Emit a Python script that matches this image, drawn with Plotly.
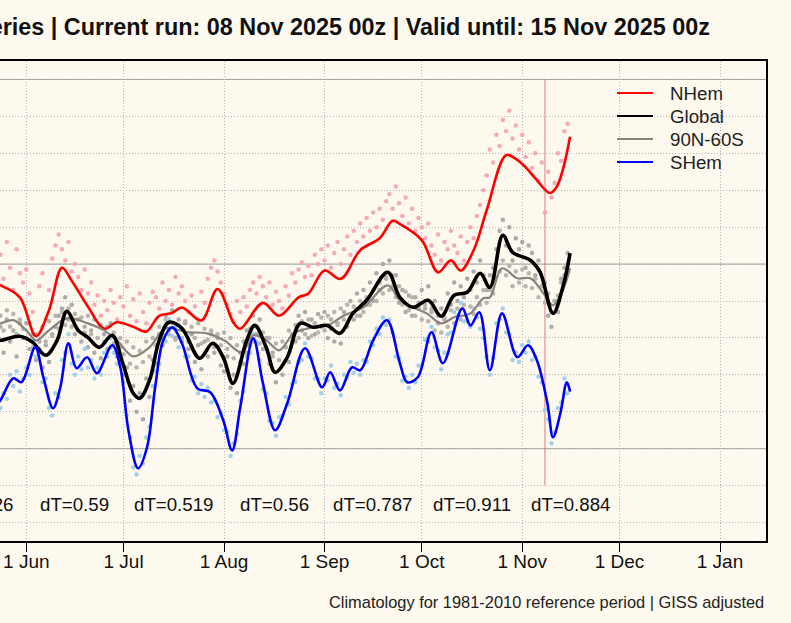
import pandas as pd
import plotly.graph_objects as go

# smoothed curves (key points)
nhem_dates = ["2025-05-21", "2025-05-24", "2025-05-30", "2025-06-04", "2025-06-08", "2025-06-12",
              "2025-06-15", "2025-06-20", "2025-06-25", "2025-06-29", "2025-07-04", "2025-07-08",
              "2025-07-12", "2025-07-16", "2025-07-19", "2025-07-25", "2025-07-30", "2025-08-04",
              "2025-08-06", "2025-08-13", "2025-08-18", "2025-08-24", "2025-08-27", "2025-09-01",
              "2025-09-06", "2025-09-12", "2025-09-18", "2025-09-22", "2025-09-24", "2025-10-01",
              "2025-10-06", "2025-10-10", "2025-10-13", "2025-10-17", "2025-10-21", "2025-10-27",
              "2025-10-30", "2025-11-02", "2025-11-05", "2025-11-09 12:00", "2025-11-11 12:00",
              "2025-11-13 12:00", "2025-11-15 18:00"]
nhem_vals = [0.90, 0.885, 0.82, 0.61, 0.75, 0.98, 0.91, 0.77, 0.65, 0.685, 0.66, 0.635,
             0.72, 0.735, 0.765, 0.695, 0.865, 0.68, 0.65, 0.79, 0.72, 0.82, 0.84, 0.965,
             0.92, 1.075, 1.14, 1.235, 1.22, 1.13, 0.955, 1.02, 0.965, 1.075, 1.29, 1.59,
             1.57, 1.525, 1.465, 1.385, 1.415, 1.51, 1.69]

glob_dates = ["2025-05-21", "2025-05-24", "2025-05-30", "2025-06-03", "2025-06-07", "2025-06-10 12:00",
              "2025-06-13 12:00", "2025-06-17", "2025-06-20", "2025-06-23 12:00", "2025-06-27 12:00",
              "2025-06-30 18:00", "2025-07-04", "2025-07-06", "2025-07-09", "2025-07-12", "2025-07-15",
              "2025-07-19", "2025-07-24 12:00", "2025-07-28 12:00", "2025-07-31 18:00",
              "2025-08-03 18:00", "2025-08-08", "2025-08-10 12:00", "2025-08-14", "2025-08-16 18:00",
              "2025-08-20 12:00", "2025-08-24 12:00", "2025-08-28 12:00", "2025-09-01 18:00",
              "2025-09-05 18:00", "2025-09-09 18:00", "2025-09-14", "2025-09-20 12:00",
              "2025-09-24 06:00", "2025-09-28 06:00", "2025-10-03", "2025-10-07", "2025-10-11",
              "2025-10-15", "2025-10-19", "2025-10-22", "2025-10-26", "2025-10-29",
              "2025-11-03 12:00", "2025-11-06 12:00", "2025-11-10 12:00", "2025-11-13 12:00",
              "2025-11-15 18:00"]
glob_vals = [0.59, 0.587, 0.609, 0.576, 0.506, 0.587, 0.744, 0.641, 0.603, 0.549, 0.614,
             0.463, 0.30, 0.273, 0.37, 0.587, 0.685, 0.652, 0.49, 0.571, 0.495,
             0.354, 0.587, 0.668, 0.549, 0.414, 0.495, 0.679, 0.658, 0.668,
             0.625, 0.733, 0.804, 0.956, 0.82, 0.766, 0.804, 0.717, 0.831,
             0.847, 0.95, 0.874, 1.156, 1.064, 1.021, 0.956, 0.733, 0.874, 1.059]

band_dates = ["2025-05-21", "2025-05-24", "2025-05-28", "2025-06-01", "2025-06-04", "2025-06-08",
              "2025-06-13 12:00", "2025-06-20", "2025-06-25", "2025-06-29", "2025-07-04", "2025-07-09",
              "2025-07-14", "2025-07-20 12:00", "2025-07-26 18:00", "2025-08-01", "2025-08-06 12:00",
              "2025-08-10", "2025-08-14", "2025-08-18", "2025-08-22 12:00", "2025-08-27",
              "2025-09-02", "2025-09-07", "2025-09-13", "2025-09-20 12:00", "2025-09-24 06:00",
              "2025-09-28 06:00", "2025-10-02 12:00", "2025-10-07", "2025-10-11", "2025-10-16",
              "2025-10-20", "2025-10-22", "2025-10-25 18:00", "2025-10-30 12:00", "2025-11-03 12:00",
              "2025-11-07 12:00", "2025-11-10 12:00", "2025-11-13 12:00", "2025-11-15 18:00"]
band_vals = [0.67, 0.679, 0.696, 0.641, 0.587, 0.641, 0.706, 0.679, 0.641, 0.587, 0.50, 0.549,
             0.652, 0.631, 0.625, 0.587, 0.522, 0.614, 0.587, 0.533, 0.625, 0.652,
             0.668, 0.722, 0.766, 0.885, 0.804, 0.766, 0.733, 0.679, 0.712, 0.733,
             0.815, 0.82, 0.977, 0.923, 0.923, 0.842, 0.777, 0.858, 0.977]

shem_dates = ["2025-05-21", "2025-05-24", "2025-05-28", "2025-05-30 12:00", "2025-06-03 18:00",
              "2025-06-06 06:00", "2025-06-09 06:00", "2025-06-11 12:00", "2025-06-14",
              "2025-06-16 12:00", "2025-06-19 18:00", "2025-06-22 18:00", "2025-06-27 12:00",
              "2025-06-30", "2025-07-02 12:00", "2025-07-05 12:00", "2025-07-08 06:00",
              "2025-07-10 18:00", "2025-07-13 06:00", "2025-07-16", "2025-07-19",
              "2025-07-23 18:00", "2025-07-27 18:00", "2025-07-31 18:00", "2025-08-03 12:00",
              "2025-08-06", "2025-08-10", "2025-08-13", "2025-08-16 18:00", "2025-08-20 12:00",
              "2025-08-26", "2025-08-31 06:00", "2025-09-02 18:00", "2025-09-05 18:00",
              "2025-09-09 12:00", "2025-09-12", "2025-09-16", "2025-09-20 06:00",
              "2025-09-24 06:00", "2025-09-26 12:00", "2025-09-29 18:00", "2025-10-04",
              "2025-10-07 12:00", "2025-10-13 12:00", "2025-10-16", "2025-10-18 18:00",
              "2025-10-22", "2025-10-25 18:00", "2025-10-30 12:00", "2025-11-02 18:00",
              "2025-11-05 12:00", "2025-11-08 18:00", "2025-11-10 12:00", "2025-11-12 18:00",
              "2025-11-14 18:00", "2025-11-15 18:00"]
shem_vals = [0.20, 0.262, 0.381, 0.36, 0.549, 0.387, 0.219, 0.333, 0.571, 0.436, 0.495,
             0.409, 0.56, 0.441, 0.10, -0.106, 0.008, 0.333, 0.587, 0.658, 0.571,
             0.327, 0.306, 0.154, -0.009, 0.224, 0.598, 0.354, 0.10, 0.246,
             0.544, 0.333, 0.414, 0.316, 0.441, 0.425, 0.587, 0.696,
             0.463, 0.36, 0.387, 0.631, 0.463, 0.76, 0.668, 0.739,
             0.425, 0.733, 0.495, 0.56, 0.479, 0.246, 0.062, 0.192, 0.36, 0.31]

# daily values (dots), 24 May - 15 Nov
nhem_daily = [1.05, 0.92, 1.12, 0.98, 0.86, 1.08, 0.95, 0.90,
              0.97, 0.84, 0.74, 0.62, 0.88, 0.95, 0.70, 0.86, 1.03, 1.10,
              1.16, 1.08, 1.02, 1.12, 0.96, 1.00, 0.93, 0.86, 0.97, 0.84,
              0.90, 0.78, 0.83, 0.72, 0.80, 0.75, 0.86, 0.79, 0.70, 0.82,
              0.77, 0.88, 0.72, 0.81, 0.69, 0.84, 0.74, 0.68, 0.79, 0.85,
              0.82, 0.76, 0.90, 0.80, 0.86, 0.78, 0.93, 0.84, 0.88, 0.80,
              0.74, 0.83, 0.77, 0.70, 0.85, 0.79, 0.92, 0.98, 1.02, 0.96, 0.90,
              0.84, 0.78, 0.73, 0.69, 0.80, 0.74, 0.82, 0.77, 0.86, 0.90,
              0.84, 0.93, 0.88, 0.82, 0.90, 0.78, 0.85, 0.80, 0.76, 0.88,
              0.83, 0.95, 0.90, 0.97, 1.01, 0.93, 0.99, 0.94, 1.05, 1.00, 1.08,
              1.02, 1.10, 0.98, 1.06, 1.12, 1.00, 1.08, 1.15, 1.05, 1.18,
              1.12, 1.22, 1.15, 1.25, 1.18, 1.28, 1.20, 1.30, 1.24, 1.34,
              1.38, 1.30, 1.42, 1.33, 1.26, 1.36, 1.22, 1.30, 1.18, 1.25,
              1.20, 1.14, 1.22, 1.10, 1.05, 1.16, 1.02, 1.12, 1.08, 1.18,
              1.10, 1.06, 1.15, 1.02, 1.12, 1.20, 1.14, 1.26, 1.32, 1.40,
              1.48, 1.62, 1.55, 1.70, 1.64, 1.78, 1.72, 1.83, 1.68, 1.75, 1.62,
              1.70, 1.58, 1.66, 1.52, 1.60, 1.45, 1.55, 1.28, 1.50, 1.36, 1.44, 1.60, 1.56, 1.72, 1.76]

glob_daily = [0.66, 0.52, 0.70, 0.58, 0.64, 0.50, 0.68, 0.60,
              0.68, 0.54, 0.62, 0.48, 0.58, 0.44, 0.56, 0.47, 0.62, 0.66,
              0.72, 0.76, 0.82, 0.70, 0.78, 0.62, 0.70, 0.58, 0.66, 0.55,
              0.64, 0.52, 0.60, 0.49, 0.62, 0.54, 0.68, 0.57, 0.50, 0.55,
              0.40, 0.44, 0.26, 0.34, 0.20, 0.30, 0.16, 0.38, 0.28, 0.48,
              0.46, 0.62, 0.56, 0.72, 0.64, 0.75, 0.60, 0.70, 0.58, 0.68,
              0.54, 0.62, 0.47, 0.56, 0.43, 0.58, 0.50, 0.62, 0.52, 0.60, 0.45,
              0.42, 0.50, 0.33, 0.40, 0.30, 0.52, 0.46, 0.64, 0.56, 0.72,
              0.62, 0.70, 0.54, 0.60, 0.46, 0.52, 0.36, 0.48, 0.40, 0.55,
              0.47, 0.62, 0.58, 0.72, 0.64, 0.74, 0.60, 0.70, 0.62, 0.73, 0.66,
              0.74, 0.60, 0.70, 0.58, 0.68, 0.57, 0.74, 0.66, 0.80, 0.70,
              0.84, 0.72, 0.86, 0.78, 0.90, 0.80, 0.95, 0.86, 1.00, 0.92,
              1.02, 0.88, 0.94, 0.79, 0.86, 0.74, 0.83, 0.72, 0.82, 0.76,
              0.86, 0.76, 0.88, 0.74, 0.80, 0.68, 0.76, 0.70, 0.84, 0.78,
              0.90, 0.80, 0.88, 0.82, 0.92, 0.86, 0.96, 0.90, 1.02, 0.94,
              0.86, 0.94, 0.98, 1.08, 1.18, 1.24, 1.10, 1.20, 1.02, 1.14, 1.08,
              1.12, 0.98, 1.10, 1.06, 0.94, 1.02, 0.88, 0.90, 0.72, 0.66, 0.80, 0.74, 0.92, 0.98, 1.06]

band_daily = [0.72, 0.64, 0.75, 0.66, 0.73, 0.62, 0.70, 0.65,
              0.60, 0.68, 0.55, 0.62, 0.54, 0.66, 0.58, 0.69, 0.61, 0.72,
              0.65, 0.74, 0.67, 0.76, 0.66, 0.73, 0.64, 0.71, 0.63, 0.72,
              0.62, 0.70, 0.60, 0.67, 0.58, 0.66, 0.55, 0.63, 0.54, 0.60,
              0.51, 0.58, 0.46, 0.55, 0.44, 0.53, 0.47, 0.58, 0.50, 0.60,
              0.56, 0.66, 0.60, 0.70, 0.62, 0.68, 0.59, 0.67, 0.60, 0.69,
              0.58, 0.66, 0.60, 0.68, 0.57, 0.65, 0.59, 0.64, 0.55, 0.62, 0.56,
              0.63, 0.54, 0.60, 0.49, 0.56, 0.47, 0.58, 0.52, 0.65, 0.58,
              0.66, 0.57, 0.63, 0.54, 0.60, 0.50, 0.57, 0.48, 0.58, 0.55,
              0.64, 0.58, 0.67, 0.60, 0.69, 0.62, 0.70, 0.61, 0.68, 0.63, 0.71,
              0.64, 0.72, 0.65, 0.74, 0.67, 0.76, 0.70, 0.78, 0.71, 0.77,
              0.72, 0.80, 0.74, 0.82, 0.78, 0.86, 0.80, 0.90, 0.84, 0.93,
              0.86, 0.94, 0.82, 0.88, 0.78, 0.85, 0.75, 0.82, 0.72, 0.79,
              0.70, 0.78, 0.69, 0.76, 0.64, 0.72, 0.63, 0.71, 0.66, 0.75,
              0.68, 0.76, 0.70, 0.78, 0.69, 0.77, 0.73, 0.82, 0.78, 0.86,
              0.79, 0.86, 0.84, 0.93, 0.96, 1.02, 0.94, 0.99, 0.88, 0.96, 0.90,
              0.97, 0.88, 0.95, 0.87, 0.92, 0.82, 0.88, 0.79, 0.84, 0.74, 0.80, 0.83, 0.90, 0.94, 1.00]

shem_daily = [0.22, 0.30, 0.27, 0.40, 0.34, 0.42, 0.31, 0.38,
              0.44, 0.40, 0.58, 0.50, 0.52, 0.36, 0.38, 0.22, 0.18, 0.30,
              0.28, 0.48, 0.52, 0.62, 0.46, 0.40, 0.50, 0.43, 0.54, 0.44,
              0.48, 0.38, 0.44, 0.40, 0.52, 0.50, 0.60, 0.52, 0.46, 0.48,
              0.36, 0.18, 0.06, -0.10, -0.14, -0.04, -0.08, 0.06, 0.12, 0.34,
              0.42, 0.46, 0.62, 0.58, 0.70, 0.61, 0.66, 0.55, 0.60, 0.50,
              0.50, 0.37, 0.39, 0.30, 0.35, 0.28, 0.33, 0.25, 0.26, 0.17, 0.19,
              0.10, 0.09, -0.04, 0.03, 0.08, 0.26, 0.31, 0.50, 0.52, 0.62,
              0.58, 0.48, 0.32, 0.30, 0.15, 0.14, 0.07, 0.17, 0.18, 0.28,
              0.24, 0.35, 0.36, 0.47, 0.48, 0.57, 0.50, 0.49, 0.38, 0.38, 0.30,
              0.38, 0.37, 0.45, 0.33, 0.35, 0.29, 0.40, 0.39, 0.47, 0.41,
              0.46, 0.40, 0.48, 0.47, 0.58, 0.56, 0.65, 0.62, 0.71, 0.67,
              0.70, 0.63, 0.50, 0.49, 0.37, 0.39, 0.33, 0.40, 0.36, 0.45,
              0.45, 0.59, 0.58, 0.66, 0.55, 0.53, 0.43, 0.52, 0.62, 0.63,
              0.74, 0.72, 0.79, 0.69, 0.70, 0.66, 0.76, 0.71, 0.65, 0.60,
              0.50, 0.40, 0.49, 0.68, 0.70, 0.76, 0.63, 0.62, 0.48, 0.52, 0.47,
              0.56, 0.52, 0.58, 0.48, 0.50, 0.39, 0.36, 0.21, 0.16, 0.03, 0.09, 0.22, 0.25, 0.38, 0.30]

# monthly means printed near the bottom
dt_dates = ["2025-05-28 20:00", "2025-06-16", "2025-07-16 12:00", "2025-08-16 12:00",
            "2025-09-16", "2025-10-16 12:00", "2025-11-16"]
dt_labels = ["dT=0.626", "dT=0.59", "dT=0.519", "dT=0.56", "dT=0.787", "dT=0.911", "dT=0.884"]

legend_names = ["NHem", "Global", "90N-60S", "SHem"]
legend_colors = ["#ff0000", "#000000", "#8a847c", "#0000ff"]

run_date = "2025-11-08"
font = "Liberation Sans"
bg = "#fdf9ee"

fig = go.Figure()

def daily_x(vals):
    return pd.date_range("2025-05-24", periods=len(vals), freq="D")

dots = [(nhem_daily, "#f6a9b9"), (glob_daily, "#ababab"),
        (band_daily, "#b8b4ae"), (shem_daily, "#a3d2e8")]
for vals, col in dots:
    fig.add_trace(go.Scatter(x=daily_x(vals), y=vals, mode="markers",
                             marker=dict(size=4.5, color=col), showlegend=False))

lines = [(nhem_dates, nhem_vals, "#ff0000", 2.6, "NHem"),
         (band_dates, band_vals, "#8a847c", 2.2, "90N-60S"),
         (glob_dates, glob_vals, "#000000", 3.6, "Global"),
         (shem_dates, shem_vals, "#0000ff", 2.6, "SHem")]
for xs, ys, col, w, name in lines:
    fig.add_trace(go.Scatter(x=xs, y=ys, mode="lines", name=name,
                             line=dict(color=col, width=w, shape="spline", smoothing=1.0),
                             showlegend=False))

# solid reference lines at 0, 1, 2
for yv in [0, 1, 2]:
    fig.add_shape(type="line", xref="paper", x0=0, x1=1, y0=yv, y1=yv,
                  line=dict(color="#9a9a9a", width=1), layer="between")

# current run marker
fig.add_shape(type="line", x0=run_date, x1=run_date, y0=-0.2, y1=2.0,
              line=dict(color="rgba(200,90,90,0.75)", width=1), layer="between")

for d, lab in zip(dt_dates, dt_labels):
    fig.add_annotation(x=d, y=-0.3, text=lab, showarrow=False,
                       xanchor="right" if lab == dt_labels[0] else "center",
                       font=dict(family=font, size=18.7, color="#111"))

# legend drawn by hand so spacing matches
for i, (nm, col) in enumerate(zip(legend_names, legend_colors)):
    yp = (541 - (93 + i * 23)) / 480
    fig.add_shape(type="line", xref="paper", yref="paper", x0=617 / 766, x1=653 / 766,
                  y0=yp, y1=yp, line=dict(color=col, width=2))
    fig.add_annotation(xref="paper", yref="paper", x=668 / 766, y=yp, text=nm,
                       showarrow=False, xanchor="left", yanchor="middle",
                       font=dict(family=font, size=18.7, color="#222"))

fig.add_annotation(xref="paper", yref="paper", x=1.0, y=-0.1265, xanchor="right", yanchor="middle",
                   text="Climatology for 1981-2010 reference period | GISS adjusted",
                   showarrow=False, font=dict(family=font, size=16.4, color="#222"))

fig.update_layout(
    width=791, height=623,
    margin=dict(l=0, r=25, t=61, b=82),
    paper_bgcolor=bg, plot_bgcolor=bg,
    title=dict(text="<b>GFS T2m anomaly time series | Current run: 08 Nov 2025 00z | Valid until: 15 Nov 2025 00z</b>",
               x=710 / 791, xanchor="right", xref="container",
               y=1 - 27 / 623, yanchor="middle", yref="container",
               font=dict(family=font, size=23.4, color="#111")),
    font=dict(family=font),
    showlegend=False,
)

fig.update_xaxes(
    type="date", range=["2025-05-23 21:17", "2026-01-15 04:30"],
    tick0="2025-01-01", dtick="M1", tickformat="%-d %b",
    ticks="outside", ticklen=9, tickwidth=1, tickcolor="#000",
    ticklabelstandoff=-7,
    tickfont=dict(family=font, size=19, color="#111"),
    showgrid=True, gridcolor="#b5b5b5", gridwidth=1, griddash="1px,2px",
    showline=True, linecolor="#000", linewidth=2, mirror=True,
    zeroline=False,
)
fig.update_yaxes(
    range=[-0.5, 2.1], tick0=0, dtick=0.2, side="right",
    showticklabels=False, ticks="",
    showgrid=True, gridcolor="#b5b5b5", gridwidth=1, griddash="1px,2px",
    showline=True, linecolor="#000", linewidth=2,
    zeroline=False,
)

fig.write_html("out.html", config={"displayModeBar": False},
               post_script="document.body.style.margin='0';")
